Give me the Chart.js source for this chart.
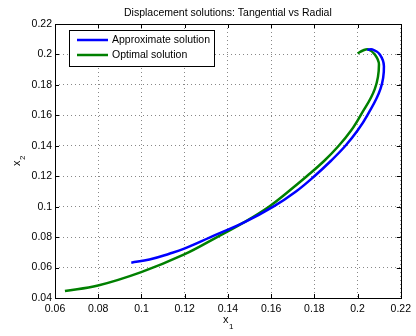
<!DOCTYPE html>
<html>
<head>
<meta charset="utf-8">
<script src="https://cdn.jsdelivr.net/npm/chart.js@4/dist/chart.umd.min.js"></script>
<style>
  html, body { margin: 0; padding: 0; background: #fff; }
  #wrap { width: 416px; height: 336px; }
</style>
</head>
<body>
<div id="wrap"><canvas id="grafica" width="416" height="336"></canvas></div>
<script>
const titulo = 'Displacement solutions: Tangential vs Radial';
const nombres = ['Approximate solution', 'Optimal solution'];

const aproxX = [0.0953, 0.1037, 0.1129, 0.1198, 0.1320, 0.1480, 0.1610, 0.1715, 0.1800, 0.1876, 0.1944, 0.2000, 0.2045, 0.2106, 0.2122, 0.2103, 0.2068, 0.2045];
const aproxY = [0.0632, 0.0653, 0.0691, 0.0724, 0.0800, 0.0900, 0.1000, 0.1100, 0.1200, 0.1300, 0.1400, 0.1500, 0.1600, 0.1774, 0.1923, 0.2000, 0.2033, 0.2030];

const optimoX = [0.0646, 0.0799, 0.0999, 0.1198, 0.1350, 0.1478, 0.1590, 0.1680, 0.1765, 0.1845, 0.1913, 0.1970, 0.2014, 0.2080, 0.2099, 0.2080, 0.2049, 0.2025, 0.2000];
const optimoY = [0.0446, 0.0482, 0.0570, 0.0686, 0.0800, 0.0900, 0.1000, 0.1100, 0.1200, 0.1300, 0.1400, 0.1500, 0.1600, 0.1774, 0.1934, 0.2000, 0.2033, 0.2026, 0.2007];

const ticksX = [0.06, 0.08, 0.1, 0.12, 0.14, 0.16, 0.18, 0.2, 0.22];
const ticksY = [0.04, 0.06, 0.08, 0.1, 0.12, 0.14, 0.16, 0.18, 0.2, 0.22];

const fuente = "'Liberation Sans', Arial, sans-serif";
const colores = ['#0000ff', '#008000'];

const puntos = (xs, ys) => xs.map((x, i) => ({ x: x, y: ys[i] }));

// marco, marcas interiores, leyenda, titulos
const marcoPlugin = {
    id: 'marco',
    afterDraw(chart) {
        const ctx = chart.ctx;
        const a = chart.chartArea;
        const sx = chart.scales.x, sy = chart.scales.y;
        ctx.save();
        ctx.strokeStyle = '#000';
        ctx.lineWidth = 1;
        ctx.beginPath();
        ticksX.forEach(v => {
            const px = Math.round(sx.getPixelForValue(v)) + 0.5;
            ctx.moveTo(px, a.bottom); ctx.lineTo(px, a.bottom - 4);
            ctx.moveTo(px, a.top); ctx.lineTo(px, a.top + 4);
        });
        ticksY.forEach(v => {
            const py = Math.round(sy.getPixelForValue(v)) + 0.5;
            ctx.moveTo(a.left, py); ctx.lineTo(a.left + 4, py);
            ctx.moveTo(a.right, py); ctx.lineTo(a.right - 4, py);
        });
        ctx.stroke();
        ctx.strokeRect(Math.round(a.left) + 0.5, Math.round(a.top) + 0.5,
            Math.round(a.right - a.left), Math.round(a.bottom - a.top));

        // titulo
        ctx.fillStyle = '#000';
        ctx.font = '10.5px ' + fuente;
        ctx.textAlign = 'center';
        ctx.textBaseline = 'middle';
        ctx.fillText(titulo, (a.left + a.right) / 2, 13);

        // etiqueta x1
        const cx = (a.left + a.right) / 2;
        ctx.font = '11px ' + fuente;
        ctx.textAlign = 'left';
        ctx.fillText('x', cx - 5, 320);
        ctx.font = '8px ' + fuente;
        ctx.fillText('1', cx + 1, 327);

        // etiqueta x2 (girada)
        ctx.save();
        ctx.translate(17, (a.top + a.bottom) / 2);
        ctx.rotate(-Math.PI / 2);
        ctx.font = '11px ' + fuente;
        ctx.fillText('x', -5, 0);
        ctx.font = '8px ' + fuente;
        ctx.fillText('2', 1, 6);
        ctx.restore();

        // leyenda
        ctx.fillStyle = '#fff';
        ctx.fillRect(69.5, 30.5, 145, 36);
        ctx.strokeStyle = '#000';
        ctx.strokeRect(69.5, 30.5, 145, 36);
        ctx.font = '10.5px ' + fuente;
        ctx.textAlign = 'left';
        ctx.textBaseline = 'middle';
        nombres.forEach((n, i) => {
            const y = 40 + i * 15;
            ctx.strokeStyle = colores[i];
            ctx.lineWidth = 2.5;
            ctx.beginPath();
            ctx.moveTo(77, y); ctx.lineTo(108, y);
            ctx.stroke();
            ctx.fillStyle = '#000';
            ctx.fillText(n, 112, y);
        });
        ctx.restore();
    }
};

new Chart(document.getElementById('grafica'), {
    type: 'scatter',
    data: {
        datasets: [
            {
                label: nombres[0],
                data: puntos(aproxX, aproxY),
                borderColor: colores[0],
                backgroundColor: colores[0],
                showLine: true,
                pointRadius: 0,
                borderWidth: 2.5,
                tension: 0.4
            },
            {
                label: nombres[1],
                data: puntos(optimoX, optimoY),
                borderColor: colores[1],
                backgroundColor: colores[1],
                showLine: true,
                pointRadius: 0,
                borderWidth: 2.5,
                tension: 0.4
            }
        ]
    },
    options: {
        responsive: false,
        animation: false,
        layout: { padding: { top: 24, right: 13, left: 0, bottom: 0 } },
        plugins: {
            legend: { display: false },
            title: { display: false },
            tooltip: { enabled: false }
        },
        scales: {
            x: {
                type: 'linear',
                min: 0.06,
                max: 0.22,
                afterBuildTicks: s => { s.ticks = ticksX.map(v => ({ value: v })); },
                afterFit: s => { s.height = 38; },
                grid: { color: '#888', drawTicks: false, lineWidth: 1 },
                border: { display: false, dash: [1, 3] },
                ticks: {
                    color: '#000',
                    padding: 5,
                    maxRotation: 0,
                    font: { family: fuente, size: 10.5 },
                    callback: v => String(+v.toFixed(2))
                }
            },
            y: {
                type: 'linear',
                min: 0.04,
                max: 0.22,
                afterBuildTicks: s => { s.ticks = ticksY.map(v => ({ value: v })); },
                afterFit: s => { s.width = 55; },
                grid: { color: '#888', drawTicks: false, lineWidth: 1 },
                border: { display: false, dash: [1, 3] },
                ticks: {
                    color: '#000',
                    padding: 3,
                    font: { family: fuente, size: 10.5 },
                    callback: v => String(+v.toFixed(2))
                }
            }
        }
    },
    plugins: [marcoPlugin]
});
</script>
</body>
</html>
